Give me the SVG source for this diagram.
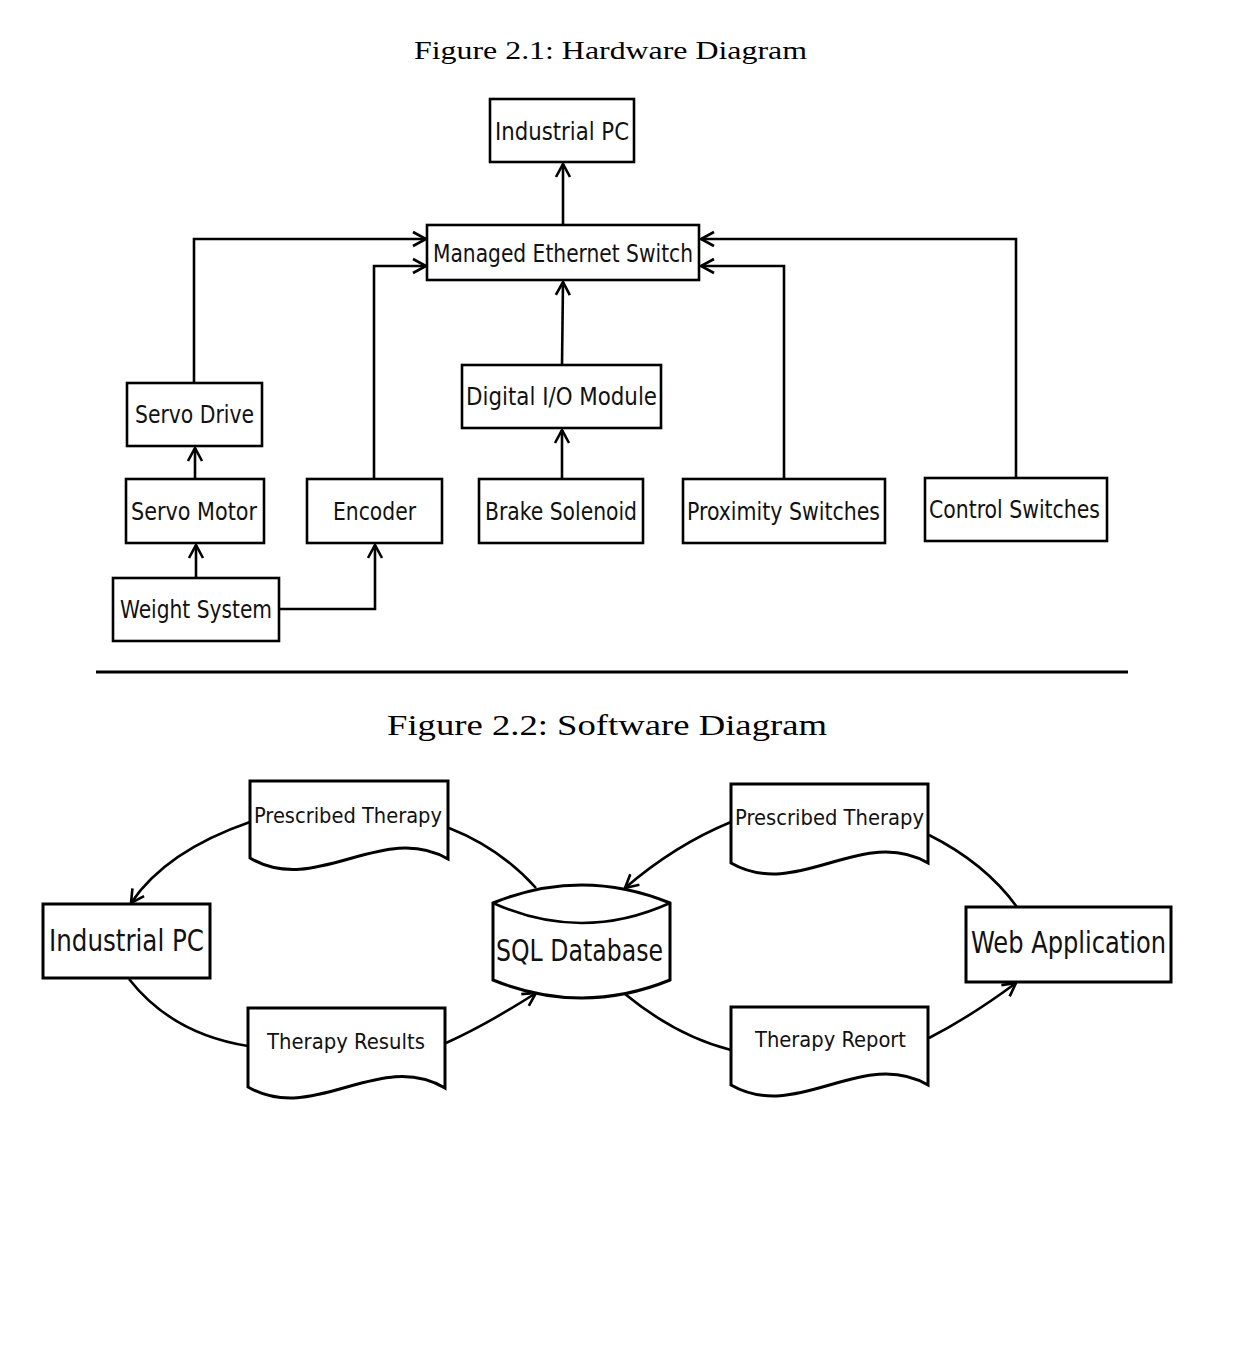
<svg xmlns="http://www.w3.org/2000/svg" width="1234" height="1363" viewBox="0 0 1234 1363">
<style>
.box{fill:#fff;stroke:#000;stroke-width:2.6}
.sbox{fill:#fff;stroke:#000;stroke-width:3}
.t{font-family:"DejaVu Sans Condensed","DejaVu Sans",sans-serif;fill:#111;font-size:24px}
.ts{font-family:"DejaVu Sans Condensed","DejaVu Sans",sans-serif;fill:#111;font-size:30px}
.tm{font-family:"DejaVu Sans Condensed","DejaVu Sans",sans-serif;fill:#111;font-size:22px}
.title{font-family:"Liberation Serif","Times New Roman",serif;fill:#000}
.c{fill:none;stroke:#000;stroke-width:2.6}
.a{marker-end:url(#arr)}
</style>
<defs>
<marker id="arr" markerUnits="userSpaceOnUse" viewBox="-16 -10 20 20" markerWidth="20" markerHeight="20" refX="0" refY="0" orient="auto">
<path d="M -13,-7 L 0,0 L -13,7" fill="none" stroke="#000" stroke-width="2.6"/>
</marker>
</defs>
<rect width="1234" height="1363" fill="#fff"/>

<text class="title" x="414" y="59" font-size="25" textLength="393" lengthAdjust="spacingAndGlyphs">Figure 2.1: Hardware Diagram</text>
<text class="title" x="387" y="735" font-size="30" textLength="440" lengthAdjust="spacingAndGlyphs">Figure 2.2: Software Diagram</text>
<line x1="96" y1="672" x2="1128" y2="672" stroke="#000" stroke-width="3"/>

<g id="hw-connectors">
<line class="c a" x1="563" y1="225" x2="563" y2="164"/>
<polyline class="c a" points="194,383 194,239 426,239"/>
<polyline class="c a" points="374,479 374,266 426,266"/>
<line class="c a" x1="562" y1="365" x2="563" y2="282"/>
<line class="c a" x1="562" y1="479" x2="562" y2="430"/>
<polyline class="c a" points="784,479 784,266 701,266"/>
<polyline class="c a" points="1016,478 1016,239 701,239"/>
<line class="c a" x1="195" y1="479" x2="195" y2="448"/>
<line class="c a" x1="196" y1="578" x2="196" y2="545"/>
<polyline class="c a" points="279,609 375,609 375,545"/>
</g>

<g id="hw-industrial-pc"><rect class="box" x="490" y="99" width="144" height="63"/><text class="t" x="495" y="140" textLength="134" lengthAdjust="spacingAndGlyphs">Industrial PC</text></g>
<g id="hw-switch"><rect class="box" x="427" y="225" width="272" height="55"/><text class="t" x="433" y="262" textLength="260" lengthAdjust="spacingAndGlyphs">Managed Ethernet Switch</text></g>
<g id="hw-servo-drive"><rect class="box" x="127" y="383" width="135" height="63"/><text class="t" x="135" y="423" textLength="119" lengthAdjust="spacingAndGlyphs">Servo Drive</text></g>
<g id="hw-servo-motor"><rect class="box" x="126" y="479" width="138" height="64"/><text class="t" x="131" y="520" textLength="126" lengthAdjust="spacingAndGlyphs">Servo Motor</text></g>
<g id="hw-weight-system"><rect class="box" x="113" y="578" width="166" height="63"/><text class="t" x="120" y="618" textLength="152" lengthAdjust="spacingAndGlyphs">Weight System</text></g>
<g id="hw-encoder"><rect class="box" x="307" y="479" width="135" height="64"/><text class="t" x="333" y="520" textLength="83" lengthAdjust="spacingAndGlyphs">Encoder</text></g>
<g id="hw-digital-io"><rect class="box" x="462" y="365" width="199" height="63"/><text class="t" x="466" y="405" textLength="191" lengthAdjust="spacingAndGlyphs">Digital I/O Module</text></g>
<g id="hw-brake-solenoid"><rect class="box" x="479" y="479" width="164" height="64"/><text class="t" x="485" y="520" textLength="152" lengthAdjust="spacingAndGlyphs">Brake Solenoid</text></g>
<g id="hw-proximity-switches"><rect class="box" x="683" y="479" width="202" height="64"/><text class="t" x="687" y="520" textLength="193" lengthAdjust="spacingAndGlyphs">Proximity Switches</text></g>
<g id="hw-control-switches"><rect class="box" x="925" y="478" width="182" height="63"/><text class="t" x="929" y="518" textLength="171" lengthAdjust="spacingAndGlyphs">Control Switches</text></g>

<g id="sw-connectors">
<path class="c a" d="M 250,822 Q 166,851 131,903"/>
<path class="c" d="M 536,888 Q 500,848 449,828"/>
<path class="c" d="M 129,979 Q 172,1034 248,1046"/>
<path class="c a" d="M 446,1043 Q 486,1025 536,993"/>
<path class="c a" d="M 731,822 Q 675,845 625,888"/>
<path class="c" d="M 1017,907 Q 985,863 929,835"/>
<path class="c" d="M 625,994 Q 676,1036 731,1050"/>
<path class="c a" d="M 929,1038 Q 970,1017 1016,983"/>
</g>

<g id="sw-industrial-pc"><rect class="sbox" x="43" y="904" width="167" height="74"/><text class="ts" x="49" y="951" textLength="155" lengthAdjust="spacingAndGlyphs">Industrial PC</text></g>
<g id="sw-sql-database">
<path class="sbox" d="M 493,903 Q 581.5,867 670,903 V 980 Q 581.5,1016 493,980 Z"/>
<path class="c" d="M 493,903 Q 581.5,943 670,903" stroke-width="3"/>
<text class="ts" x="496" y="961" textLength="167" lengthAdjust="spacingAndGlyphs">SQL Database</text>
</g>
<g id="sw-web-application"><rect class="sbox" x="966" y="907" width="205" height="75"/><text class="ts" x="971" y="953" textLength="195" lengthAdjust="spacingAndGlyphs">Web Application</text></g>
<g id="sw-prescribed-therapy-left">
<path class="sbox" d="M 250,781 H 448 V 859 C 382,821 316,897 250,858 Z"/>
<text class="tm" x="254" y="823" textLength="188" lengthAdjust="spacingAndGlyphs">Prescribed Therapy</text>
</g>
<g id="sw-therapy-results">
<path class="sbox" d="M 248,1008 H 445 V 1088 C 379,1049 314,1125 248,1087 Z"/>
<text class="tm" x="267" y="1049" textLength="158" lengthAdjust="spacingAndGlyphs">Therapy Results</text>
</g>
<g id="sw-prescribed-therapy-right">
<path class="sbox" d="M 731,784 H 928 V 863 C 862,825 797,901 731,863 Z"/>
<text class="tm" x="735" y="825" textLength="189" lengthAdjust="spacingAndGlyphs">Prescribed Therapy</text>
</g>
<g id="sw-therapy-report">
<path class="sbox" d="M 731,1007 H 928 V 1085 C 862,1047 797,1123 731,1085 Z"/>
<text class="tm" x="755" y="1047" textLength="151" lengthAdjust="spacingAndGlyphs">Therapy Report</text>
</g>
</svg>
